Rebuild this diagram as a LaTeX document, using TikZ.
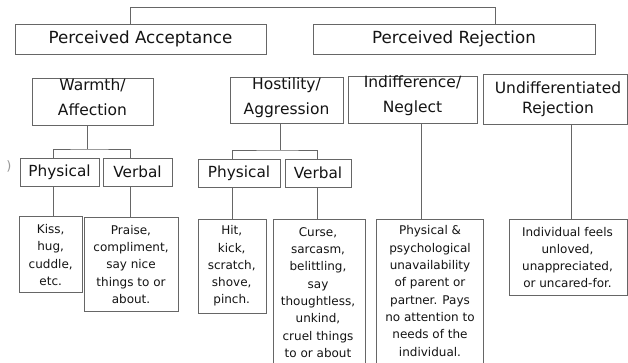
\documentclass[tikz,border=0pt]{standalone}
\usepackage{fontspec}
\setmainfont{DejaVu Sans}
\begin{document}
\begin{tikzpicture}[x=1pt,y=-1pt,
  box/.style={draw=black!60,line width=1pt,inner sep=0pt},
  txt/.style={inner sep=0pt,align=center,text=black!92},
  topf/.style={txt,font=\fontsize{16.7}{20}\selectfont},
  midf/.style={txt,font=\fontsize{15.5}{25}\selectfont},
  midg/.style={txt,font=\fontsize{15.5}{20.5}\selectfont},
  lowf/.style={txt,font=\fontsize{15.3}{18}\selectfont},
  leaff/.style={txt,font=\fontsize{12}{17.3}\selectfont},
  conn/.style={draw=black!60,line width=1pt}]
\useasboundingbox[fill=white] (0,0) rectangle (628,362);

% boxes
\node[box,minimum width=251pt,minimum height=30pt] (pa) at (140.5,39) {};
\node[box,minimum width=282pt,minimum height=30pt] (pr) at (454,39) {};
\node[box,minimum width=121pt,minimum height=47pt] (wa) at (92.5,101.5) {};
\node[box,minimum width=113pt,minimum height=46pt] (ha) at (286.5,100.5) {};
\node[box,minimum width=129pt,minimum height=47pt] (in) at (412.5,100) {};
\node[box,minimum width=144pt,minimum height=50pt] (ud) at (555,99.5) {};
\node[box,minimum width=79pt,minimum height=28pt] (wp) at (59.5,172) {};
\node[box,minimum width=69pt,minimum height=28pt] (wv) at (137.5,172) {};
\node[box,minimum width=82pt,minimum height=28pt] (hp) at (239,173) {};
\node[box,minimum width=66pt,minimum height=28pt] (hv) at (318,173) {};
\node[box,minimum width=63pt,minimum height=76pt] (kiss) at (50.5,254) {};
\node[box,minimum width=94pt,minimum height=94pt] (praise) at (131,264) {};
\node[box,minimum width=68pt,minimum height=94pt] (hit) at (232,266) {};
\node[box,minimum width=92pt,minimum height=151pt] (curse) at (319.5,294.5) {};
\node[box,minimum width=107pt,minimum height=151pt] (neg) at (429.5,294.5) {};
\node[box,minimum width=118pt,minimum height=76pt] (ind) at (568,257) {};

% texts
\node[topf] (pat) at (140.5,39) {Perceived Acceptance};
\node[topf] (prt) at (454,39) {Perceived Rejection};
\node[midf] (wat) at (92.5,97.5) {Warmth/\\Affection};
\node[midf] (hat) at (286.5,97.5) {Hostility/\\Aggression};
\node[midf] (int) at (412.5,96) {Indifference/\\Neglect};
\node[midg] (udt) at (558,99.3) {Undifferentiated\\Rejection};
\node[lowf] (wpt) at (59.5,172) {Physical};
\node[lowf] (wvt) at (137.5,172) {Verbal};
\node[lowf] (hpt) at (239,173) {Physical};
\node[lowf] (hvt) at (318,173) {Verbal};
\node[leaff] (kisst) at (50.7,255) {Kiss,\\hug,\\cuddle,\\etc.};
\node[leaff] (praiset) at (131,264.5) {Praise,\\compliment,\\say nice\\things to or\\about.};
\node[leaff] (hitt) at (231.7,266) {Hit,\\kick,\\scratch,\\shove,\\pinch.};
\node[leaff] (curset) at (318,292.5) {Curse,\\sarcasm,\\belittling,\\say\\thoughtless,\\unkind,\\cruel things\\to or about};
\node[leaff] (negt) at (430,291) {Physical \&\\psychological\\unavailability\\of parent or\\partner. Pays\\no attention to\\needs of the\\individual.};
\node[leaff] (indt) at (567.5,257.5) {Individual feels\\unloved,\\unappreciated,\\or uncared-for.};
\node[txt,text=black!40,font=\fontsize{13}{14}\selectfont] (frag) at (9,166) {)};

% connectors
\coordinate (ta) at (130,7);
\coordinate (tb) at (495,7);
\draw[conn] (pa.north -| ta) -- (ta) -- (tb) -- (pr.north -| tb);

\coordinate (wj) at (87,149);
\coordinate (xa) at (53,0);
\coordinate (xb) at (130.5,0);
\draw[conn] (wa.south -| wj) -- (wj);
\draw[conn] (wp.north -| xa) |- (wj) -| (wv.north -| xb);
\draw[conn] (wp.south -| xa) -- (kiss.north -| xa);
\draw[conn] (wv.south -| xb) -- (praise.north -| xb);

\coordinate (hj) at (280,150);
\coordinate (xc) at (232,0);
\coordinate (xd) at (317.5,0);
\draw[conn] (ha.south -| hj) -- (hj);
\draw[conn] (hp.north -| xc) |- (hj) -| (hv.north -| xd);
\draw[conn] (hp.south -| xc) -- (hit.north -| xc);
\draw[conn] (hv.south -| xd) -- (curse.north -| xd);

\coordinate (xe) at (421,0);
\draw[conn] (in.south -| xe) -- (neg.north -| xe);
\coordinate (xf) at (571,0);
\draw[conn] (ud.south -| xf) -- (ind.north -| xf);
\end{tikzpicture}
\end{document}
